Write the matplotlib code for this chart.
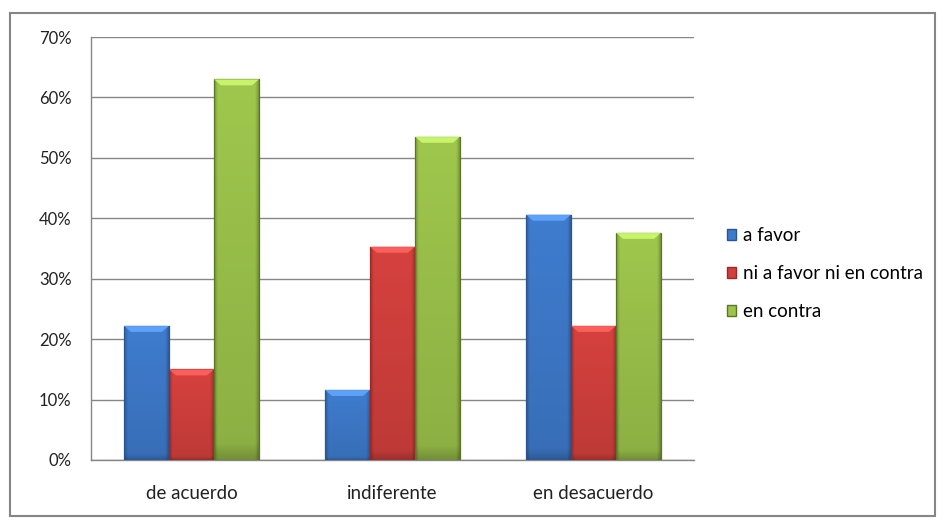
import matplotlib.pyplot as plt
import numpy as np
from matplotlib.patches import Rectangle, Polygon
from matplotlib.colors import to_rgb

plt.rcParams['font.family'] = ['Lato', 'DejaVu Sans']

categorias = ['de acuerdo', 'indiferente', 'en desacuerdo']
series = ['a favor', 'ni a favor ni en contra', 'en contra']
a_favor = [22.2, 11.6, 40.6]
ni_ni = [15.0, 35.3, 22.2]
en_contra = [63.0, 53.5, 37.6]
valores = [a_favor, ni_ni, en_contra]
yticks = [0, 10, 20, 30, 40, 50, 60, 70]

colores = ['#3e7acb', '#d2403d', '#9cc34b']
bordes = ['#2a5690', '#952a28', '#5b7528']

fig = plt.figure(figsize=(9.43, 5.24), dpi=100, facecolor='white')
ax = fig.add_axes([91 / 943, 64 / 524, 603 / 943, 423 / 524])

x = np.arange(len(categorias))
w = 0.224

def barra_sombreada(ax, x0, h, color, borde):
    # relleno con degradado (bordes laterales y base más oscuros) y bisel claro arriba
    base = np.array(to_rgb(color))
    tx = np.linspace(0, 1, 60)
    ty = np.linspace(0, 1, 80)
    fx = 1.0 - 0.22 * np.clip(1 - tx / 0.08, 0, 1) - 0.28 * np.clip((tx - 0.9) / 0.1, 0, 1)
    fy = 0.9 + 0.12 * ty - 0.15 * np.clip(1 - ty / 0.04, 0, 1)
    img = np.clip(base[None, None, :] * fy[:, None, None] * fx[None, :, None], 0, 1)
    rect = Rectangle((x0, 0), w, h, facecolor='none', edgecolor=borde, lw=0.9, zorder=4)
    ax.add_patch(rect)
    im = ax.imshow(img, extent=(x0, x0 + w, 0, h), origin='lower', aspect='auto',
                   zorder=3, interpolation='bilinear')
    im.set_clip_path(rect)
    luz = np.clip(base * 1.15 + 0.1, 0, 1)
    dx, dy = 0.035, 1.0
    ax.add_patch(Polygon([(x0, h), (x0 + w, h), (x0 + w - dx, h - dy), (x0 + dx, h - dy)],
                         closed=True, facecolor=luz, edgecolor='none', zorder=4, alpha=0.9))

handles = []
for i, vals in enumerate(valores):
    for j, v in enumerate(vals):
        x0 = x[j] - 1.5 * w + i * w
        barra_sombreada(ax, x0, v, colores[i], bordes[i])
    handles.append(Rectangle((0, 0), 1, 1, facecolor=colores[i], edgecolor=bordes[i]))

ax.set_xlim(-0.5, 2.5)
ax.set_ylim(0, 70)
ax.set_yticks(yticks)
ax.set_yticklabels([f'{t}%' for t in yticks])
ax.set_xticks(x)
ax.set_xticklabels(categorias)
ax.tick_params(length=0, colors='#222222')
ax.tick_params(axis='x', pad=18, labelsize=13.5)
ax.tick_params(axis='y', pad=14, labelsize=12)
ax.yaxis.grid(True, color='#868686', lw=1.0)
ax.set_axisbelow(True)
for s in ['top', 'right']:
    ax.spines[s].set_visible(False)
for s in ['left', 'bottom']:
    ax.spines[s].set_color('#868686')
    ax.spines[s].set_linewidth(1.0)

fig.legend(handles, series, loc='center left', bbox_to_anchor=(727 / 943, 0.478),
           frameon=False, fontsize=13.5, handlelength=0.5, handleheight=0.5,
           handletextpad=0.35, labelspacing=1.12, borderaxespad=0, borderpad=0)

fig.patches.append(Rectangle((10 / 943, 8 / 524), 925 / 943, 503 / 524,
                             transform=fig.transFigure, fill=False,
                             edgecolor='#868686', lw=1.5))

fig.savefig('out.png', dpi=100)
